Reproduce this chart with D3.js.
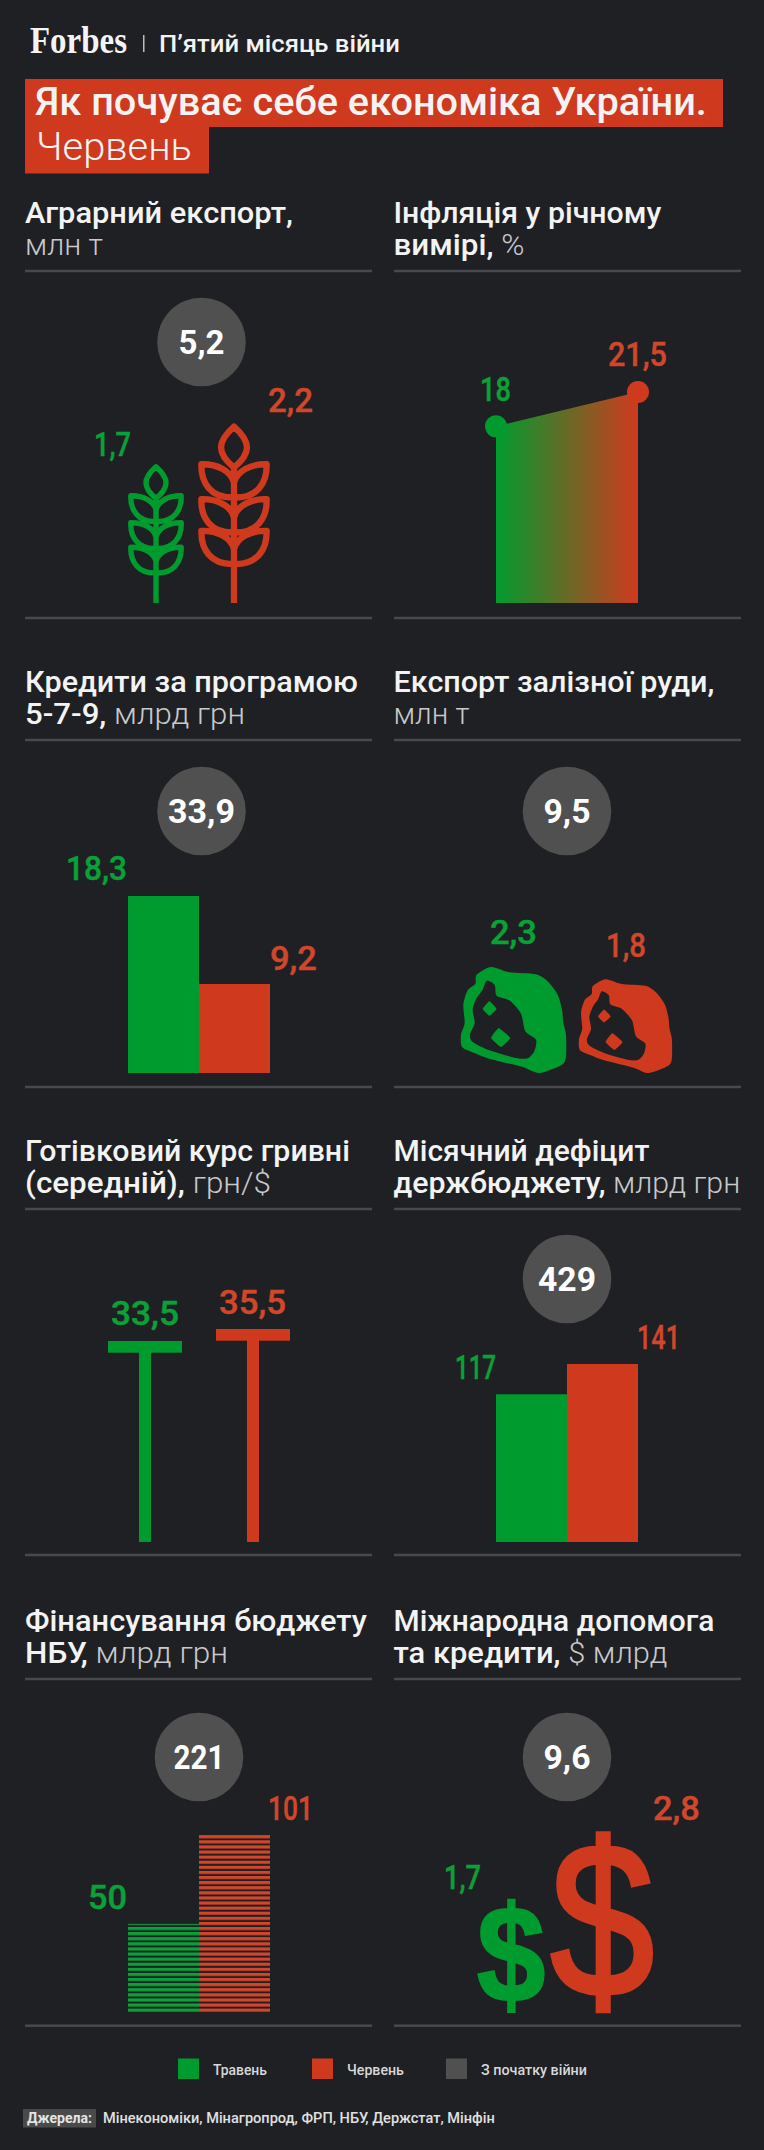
<!DOCTYPE html>
<html lang="uk"><head><meta charset="utf-8">
<script src="https://cdn.jsdelivr.net/npm/d3@7"></script>
<style>html,body{margin:0;padding:0;background:#1f2024}svg{display:block}text{font-family:Roboto,sans-serif}</style>
</head><body><svg id="c" width="764" height="2150"></svg>
<script>
// ---- data ----
const months = ["Травень", "Червень"];
const agriExport = [1.7, 2.2];
const inflation = [18, 21.5];
const loans = [18.3, 9.2];
const oreExport = [2.3, 1.8];
const cashRate = [33.5, 35.5];
const deficit = [117, 141];
const nbuFinancing = [50, 101];
const aid = [1.7, 2.8];
const sinceWarStart = ["5,2", "33,9", "9,5", "429", "221", "9,6"];
const legendLabels = ["Травень", "Червень", "З початку війни"];
const fmt = v => String(v).replace(".", ",");

// ---- style / layout ----
const BG = "#1f2024", GREEN = "#009b2e", RED = "#cf3a1f", GREY = "#505050", RULE = "#48494d", WHITE = "#f3f3f3", SOFT = "#c9c9cb";
const LGREEN = "#0aa238", LRED = "#d0472b";
const svg = d3.select("#c");
svg.append("rect").attr("width", 764).attr("height", 2150).attr("fill", BG);
const defs = svg.append("defs");

function put(parts, x, y, size, w, anchor) {
  const t = svg.append("text").attr("font-size", size);
  parts.forEach(p => { const s = t.append("tspan").text(p.t).attr("font-weight", p.w || 500).attr("fill", p.c || WHITE); if (p.f) s.style("font-family", p.f); });
  const len = t.node().getComputedTextLength();
  const k = w ? w / len : 1;
  const x0 = anchor === "middle" ? x - len * k / 2 : x;
  t.attr("transform", `translate(${x0},${y}) scale(${k},1)`);
  return t;
}
const label = (v, x, y, color, w) => put([{t: fmt(v), c: color}], x, y, 33, w).attr("stroke", color).attr("stroke-width", 0.45);
const bubble = (txt, cx, cy, tw) => {
  svg.append("circle").attr("cx", cx).attr("cy", cy).attr("r", 44.3).attr("fill", GREY);
  put([{t: txt, c: "#fff", w: 700}], cx, cy + 11.5, 33, tw, "middle");
};

// header
put([{t: "Forbes", f: "Liberation Serif", w: 700, c: "#f4f4f4"}], 30, 53, 37, 97);
svg.append("rect").attr("x", 143).attr("y", 35).attr("width", 1.5).attr("height", 17).attr("fill", "#bdbdbd");
put([{t: "П’ятий місяць війни"}], 159, 52, 24, 241);
svg.append("rect").attr("x", 25).attr("y", 79).attr("width", 698).attr("height", 48).attr("fill", RED);
svg.append("rect").attr("x", 25).attr("y", 127).attr("width", 184).attr("height", 46.5).attr("fill", RED);
put([{t: "Як почуває себе економіка України."}], 35, 115, 38, 672);
put([{t: "Червень", w: 300}], 36, 160, 38, 156);

// panel titles
const titles = [
 {x: 25, y: 223, l: [[["Аграрний експорт,", 1]], 268, [["млн т", 0]], 78]},
 {x: 393.5, y: 223, l: [[["Інфляція у річному", 1]], 268, [["вимірі, ", 1], ["%", 0]], 131]},
 {x: 25, y: 692, l: [[["Кредити за програмою", 1]], 333, [["5-7-9, ", 1], ["млрд грн", 0]], 220]},
 {x: 393.5, y: 692, l: [[["Експорт залізної руди,", 1]], 321, [["млн т", 0]], 76]},
 {x: 25, y: 1161, l: [[["Готівковий курс гривні", 1]], 325, [["(середній), ", 1], ["грн/$", 0]], 246]},
 {x: 393.5, y: 1161, l: [[["Місячний дефіцит", 1]], 256, [["держбюджету, ", 1], ["млрд грн", 0]], 347]},
 {x: 25, y: 1631, l: [[["Фінансування бюджету", 1]], 342, [["НБУ, ", 1], ["млрд грн", 0]], 203]},
 {x: 393.5, y: 1631, l: [[["Міжнародна допомога", 1]], 321, [["та кредити, ", 1], ["$ млрд", 0]], 274]},
];
titles.forEach(p => {
  const mk = a => a.map(([t, b]) => ({t, w: b ? 500 : 300, c: b ? WHITE : SOFT}));
  put(mk(p.l[0]), p.x, p.y, 29, p.l[1]);
  put(mk(p.l[2]), p.x, p.y + 32, 29, p.l[3]);
});
[271, 618, 740, 1087, 1209, 1555, 1679, 2025.7].forEach(y => [25, 394].forEach(x => {
  svg.append("rect").attr("x", x).attr("y", y - 1.25).attr("width", 347).attr("height", 2.5).attr("fill", RULE);
}));

// 1. wheat: glyph scaled by value
const wheatH = d3.scaleLinear([0, 2.2], [0, 179]);
const leaf = c => {
  const side = s => `M0,${c + 56}C${s * 8},${c + 20} ${s * 50},${c - 1} ${s * 98},${c}C${s * 100},${c + 58} ${s * 68},${c + 100} ${s * 6},${c + 100}L0,${c + 100}`;
  return side(1) + side(-1);
};
const wheatPath = "M0,0V-407" + "M0,-407C-22,-425 -39,-445 -39,-468C-39,-490 -20,-512 0,-530C20,-512 39,-490 39,-468C39,-445 22,-425 0,-407Z"
  + leaf(-417) + leaf(-312) + leaf(-217);
svg.selectAll(".wheat").data(agriExport).join("path").attr("class", "wheat")
  .attr("d", wheatPath).attr("fill", "none").attr("stroke-linejoin", "round")
  .attr("stroke-width", (d, i) => i ? 19 : 21)
  .attr("stroke", (d, i) => i ? RED : GREEN)
  .attr("transform", (d, i) => { const k = wheatH(d) / 538; return `translate(${[156, 234][i]},603) scale(${k})`; });
bubble(sinceWarStart[0], 201.5, 342, 46);
label(agriExport[0], 94, 603 - wheatH(agriExport[0]) - 9, LGREEN, 37);
label(agriExport[1], 268, 603 - wheatH(agriExport[1]) - 12, LRED, 45);

// 2. inflation: gradient area
const infY = d3.scaleLinear([0, 21.5], [603, 392]);
const infX = d3.scaleLinear([0, 1], [496, 638]);
const grad = defs.append("linearGradient").attr("id", "g").attr("x1", 0).attr("x2", 1).attr("y1", 0).attr("y2", 0);
grad.append("stop").attr("offset", 0).attr("stop-color", GREEN);
grad.append("stop").attr("offset", 1).attr("stop-color", RED);
svg.append("path").datum(inflation)
  .attr("d", d3.area().x((d, i) => infX(i)).y0(infY(0)).y1(d => infY(d))).attr("fill", "url(#g)");
svg.selectAll(".dot").data(inflation).join("circle").attr("class", "dot")
  .attr("cx", (d, i) => infX(i)).attr("cy", d => infY(d)).attr("r", 11).attr("fill", (d, i) => i ? RED : GREEN);
label(inflation[0], 480, infY(inflation[0]) - 25, LGREEN, 31);
label(inflation[1], 608, infY(inflation[1]) - 26, LRED, 59);

// 3. loans
const bandL = d3.scaleBand(months, [128, 270]);
const bandR = d3.scaleBand(months, [496, 638]);
const loanY = d3.scaleLinear([0, 18.3], [1073, 896]);
svg.selectAll(".loan").data(loans).join("rect").attr("class", "loan")
  .attr("x", (d, i) => bandL(months[i])).attr("width", bandL.bandwidth())
  .attr("y", d => loanY(d)).attr("height", d => loanY(0) - loanY(d)).attr("fill", (d, i) => i ? RED : GREEN);
bubble(sinceWarStart[1], 201.5, 811, 67);
label(loans[0], 66, loanY(loans[0]) - 16, LGREEN, 61);
label(loans[1], 270, loanY(loans[1]) - 14, LRED, 47);

// 4. ore: area proportional to value
const oreH = d3.scaleSqrt([0, 2.3], [0, 106]);
const closed = d3.line().curve(d3.curveCardinalClosed.tension(0.25));
const oreOuter = [[105,22],[160,38],[240,44],[275,65],[305,105],[318,150],[322,190],[330,225],[330,290],[318,315],[250,340],[200,322],[100,297],[55,280],[18,262],[15,225],[26,190],[22,135],[35,92],[58,72],[62,45]];
const oreInner = [[92,63],[116,76],[122,108],[160,122],[195,162],[208,215],[240,240],[235,275],[215,296],[180,295],[100,272],[50,247],[42,225],[56,190],[50,150],[62,115],[80,90]];
const oreD1 = [[100,125],[122,148],[100,168],[80,148]];
const oreD2 = [[128,205],[163,235],[135,262],[105,235]];
const dia = d3.line().curve(d3.curveCardinalClosed.tension(0.7));
const orePath = closed(oreOuter) + closed(oreInner) + dia(oreD1) + dia(oreD2);
svg.selectAll(".ore").data(oreExport).join("path").attr("class", "ore")
  .attr("d", orePath).attr("fill-rule", "evenodd").attr("fill", (d, i) => i ? RED : GREEN)
  .attr("transform", (d, i) => { const k = oreH(d) / 318; return `translate(${[461, 579][i] - 15 * k},${1073 - 340 * k}) scale(${k})`; });
bubble(sinceWarStart[2], 567, 811, 47);
label(oreExport[0], 490, 1073 - oreH(oreExport[0]) - 23, LGREEN, 47);
label(oreExport[1], 606, 1073 - oreH(oreExport[1]) - 22, LRED, 40);

// 5. cash rate: T-bars
const rateY = d3.scaleLinear([0, 35.5], [1542, 1329]);
const rateX = d3.scalePoint(months, [145, 253]);
cashRate.forEach((v, i) => {
  const c = i ? RED : GREEN, x = rateX(months[i]);
  svg.append("rect").attr("x", x - 37).attr("width", 74).attr("y", rateY(v)).attr("height", 11.7).attr("fill", c);
  svg.append("rect").attr("x", x - 6).attr("width", 12).attr("y", rateY(v)).attr("height", rateY(0) - rateY(v)).attr("fill", c);
});
label(cashRate[0], 111, rateY(cashRate[0]) - 16, LGREEN, 68);
label(cashRate[1], 219, rateY(cashRate[1]) - 15, LRED, 67);

// 6. deficit
const defY = d3.scaleLinear([0, 141], [1542, 1364]);
svg.selectAll(".def").data(deficit).join("rect").attr("class", "def")
  .attr("x", (d, i) => bandR(months[i])).attr("width", bandR.bandwidth())
  .attr("y", d => defY(d)).attr("height", d => defY(0) - defY(d)).attr("fill", (d, i) => i ? RED : GREEN);
bubble(sinceWarStart[3], 567, 1279, 58);
label(deficit[0], 455, defY(deficit[0]) - 15, LGREEN, 41);
label(deficit[1], 637, defY(deficit[1]) - 15, LRED, 43);

// 7. NBU: striped bars
const nbuY = d3.scaleLinear([0, 101], [2012, 1834]);
[GREEN, RED].forEach((c, i) => {
  const p = defs.append("pattern").attr("id", "st" + i).attr("patternUnits", "userSpaceOnUse")
    .attr("width", 10).attr("height", 5.1).attr("y", 2012);
  p.append("rect").attr("width", 10).attr("y", 1.7).attr("height", 3.1).attr("fill", i ? "#d4452a" : "#0aa238");
});
svg.selectAll(".nbu").data(nbuFinancing).join("rect").attr("class", "nbu")
  .attr("x", (d, i) => bandL(months[i])).attr("width", bandL.bandwidth())
  .attr("y", d => nbuY(d)).attr("height", d => nbuY(0) - nbuY(d)).attr("fill", (d, i) => `url(#st${i})`);
bubble(sinceWarStart[4], 199, 1757, 51);
label(nbuFinancing[0], 88, nbuY(nbuFinancing[0]) - 15, LGREEN, 39);
label(nbuFinancing[1], 268, nbuY(nbuFinancing[1]) - 14, LRED, 45);

// 8. aid: dollar glyphs, fitted to ink box
const aidH = d3.scaleLinear([1.7, 2.8], [112, 178]);
const ctx = document.createElement("canvas").getContext("2d");
aid.forEach((v, i) => {
  const wt = i ? 400 : 700, fam = "Liberation Sans";
  ctx.font = `${wt} 200px "${fam}"`;
  const m = ctx.measureText("$");
  const inkH = m.actualBoundingBoxAscent + m.actualBoundingBoxDescent;
  const inkW = m.actualBoundingBoxLeft + m.actualBoundingBoxRight;
  const h = aidH(v), w = [66, 100][i], left = [478, 552][i];
  const sy = h / inkH, sx = w / inkW;
  svg.append("text").text("$").attr("font-size", 200).attr("font-weight", wt).style("font-family", `"${fam}"`)
    .attr("fill", i ? RED : GREEN).attr("stroke", i ? RED : GREEN).attr("stroke-width", i ? 4 : 3)
    .attr("transform", `translate(${left + m.actualBoundingBoxLeft * sx},${2012 - m.actualBoundingBoxDescent * sy}) scale(${sx},${sy})`);
});
bubble(sinceWarStart[5], 567, 1757, 47);
label(aid[0], 444, 1889, LGREEN, 37);
label(aid[1], 653, 1820, LRED, 47);

// legend
const lgX = [178, 312, 446], lgT = [213, 347, 481], lgW = [54, 57, 106];
legendLabels.forEach((t, i) => {
  svg.append("rect").attr("x", lgX[i]).attr("y", 2058.5).attr("width", 21).attr("height", 20.5).attr("fill", [GREEN, RED, GREY][i]);
  put([{t, c: "#d8d8d8"}], lgT[i], 2075, 15, lgW[i]);
});

// sources
svg.append("rect").attr("x", 23).attr("y", 2109).attr("width", 73).attr("height", 18.5).attr("fill", "#4a4a4a");
put([{t: "Джерела:", w: 700, c: "#e4e4e4"}], 27, 2123, 15, 65);
put([{t: "Мінекономіки, Мінагропрод, ФРП, НБУ, Держстат, Мінфін", c: "#e0e0e0"}], 103, 2123, 15, 392);
</script></body></html>
